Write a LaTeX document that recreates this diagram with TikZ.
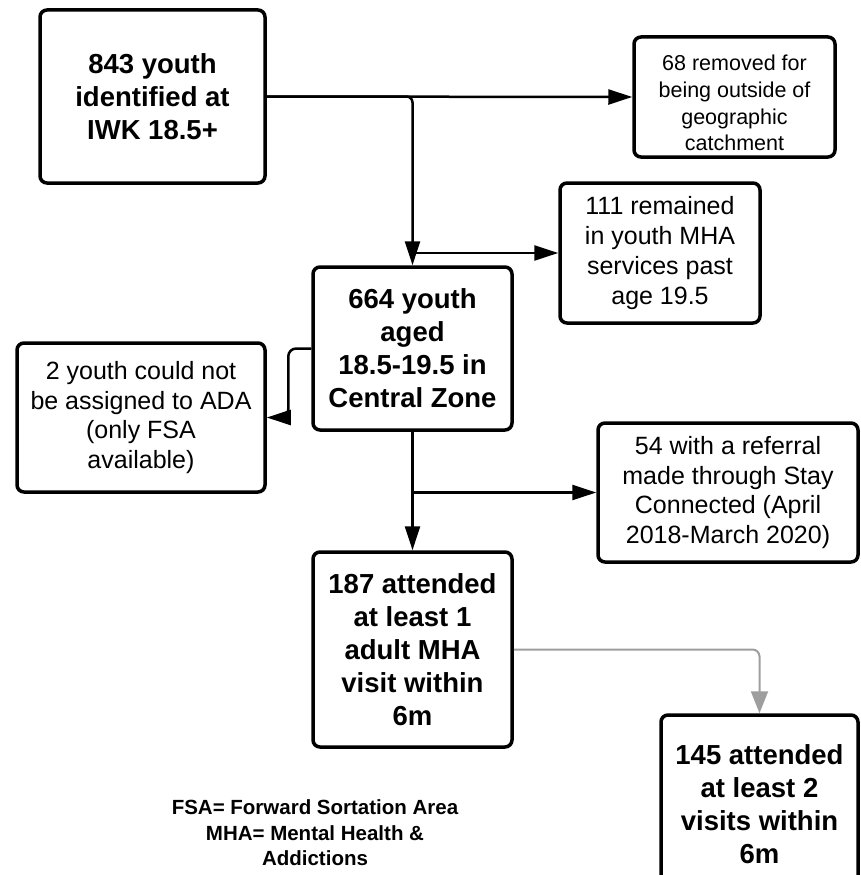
\documentclass[tikz,border=0pt]{standalone}
\usepackage{fontspec}
\setmainfont{Liberation Sans}
\usetikzlibrary{arrows.meta, positioning}

\begin{document}
\begin{tikzpicture}[
    x=1pt, y=-1pt,
    box/.style={draw, line width=3.5pt, rounded corners=7pt, align=center, inner sep=0pt},
    bigtxt/.style={font=\bfseries\fontsize{27.5}{33}\selectfont},
    midtxt/.style={font=\fontsize{25}{29.8}\selectfont},
    smalltxt/.style={font=\fontsize{21.5}{26.8}\selectfont},
    arrow/.style={-{Triangle[length=24pt, width=15pt]}, line width=2.5pt},
    grayarrow/.style={-{Triangle[length=22pt, width=17pt]}, line width=2pt, draw=black!38}
]
\clip (0,0) rectangle (861,875);

% main column
\node[box, bigtxt, minimum width=225pt, minimum height=173pt] (start) at (152.5,96.5) {843 youth\\identified at\\IWK 18.5+};
\node[box, bigtxt, minimum width=199pt, minimum height=163pt] (zone) at (412.5,348.5) {664 youth\\aged\\18.5-19.5 in\\Central Zone};
\node[box, bigtxt, minimum width=199pt, minimum height=195pt] (adult) at (412.5,649.5) {187 attended\\at least 1\\adult MHA\\visit within\\6m};
\node[box, bigtxt, minimum width=197pt, minimum height=178pt] (twice) at (759.5,804) {145 attended\\at least 2\\visits within\\6m};

% side boxes
\node[box, minimum width=201pt, minimum height=120pt] (outside) at (734.5,97) {};
\node[smalltxt, align=center] at ([yshift=-6pt]outside.center) {68 removed for\\being outside of\\geographic\\catchment};
\node[box, midtxt, minimum width=200pt, minimum height=140pt] (remain) at (660,253) {111 remained\\in youth MHA\\services past\\age 19.5};
\node[box, midtxt, minimum width=248pt, minimum height=149pt] (noada) at (141,417.5) {2 youth could not\\be assigned to ADA\\(only FSA\\available)};
\node[box, midtxt, minimum width=260pt, minimum height=139pt] (stay) at (728,492.5) {54 with a referral\\made through Stay\\Connected (April\\2018-March 2020)};

% legend
\node[font=\bfseries\fontsize{20.5}{25.5}\selectfont, align=center] (key) at (315,833) {FSA= Forward Sortation Area\\MHA= Mental Health \&\\Addictions};

% connectors
\draw[arrow] (start.east) -- (outside.west);
\draw[arrow, rounded corners=6pt] (start.east) -| (zone.north);
\draw[arrow] (zone.north |- remain.west) -- (remain.west);
\draw[arrow, rounded corners=8pt] (zone.west) -- ++(-23,0) |- (noada.east);
\draw[arrow] (zone.south) -- (adult.north);
\draw[arrow] (zone.south |- stay.west) -- (stay.west);
\draw[grayarrow, rounded corners=7pt] (adult.east) -| (twice.north);

\end{tikzpicture}
\end{document}
